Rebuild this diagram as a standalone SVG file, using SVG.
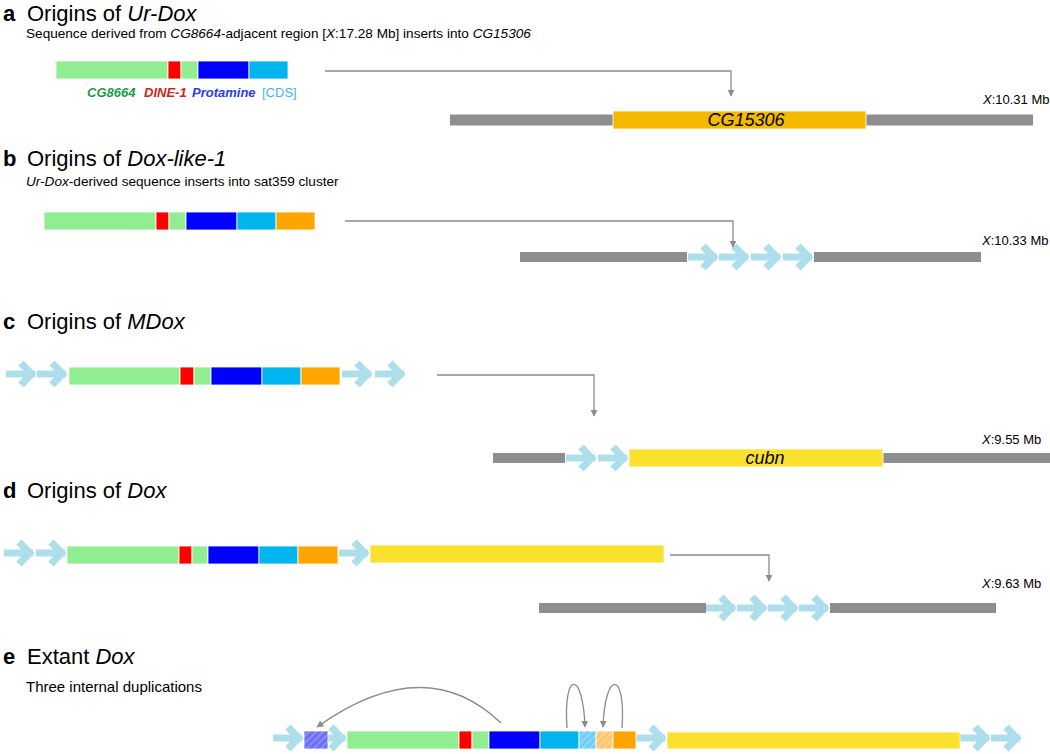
<svg xmlns="http://www.w3.org/2000/svg" width="1050" height="754" viewBox="0 0 1050 754">
<style>
text{font-family:"Liberation Sans",Arial,Helvetica,sans-serif;fill:#000}
.title{font-size:22px}
.sub{font-size:13.6px}
.lab{font-size:13px;font-weight:bold;font-style:italic}
.coord{font-size:13px}
.gname{font-size:18px;font-style:italic}
.it{font-style:italic}
.b{font-weight:bold}
rect.seg{stroke:#fff;stroke-width:0.8}
.g{fill:#90EE90}.r{fill:#FF0000}.bl{fill:#0000FF}.c{fill:#00B4EE}.o{fill:#FFA500}.y{fill:#F9E12E}.gr{fill:#8E8E8E}
.conn{fill:none;stroke:#8C8C8C;stroke-width:1.3}
.chev{fill:#ADDEEC;stroke:#ADDEEC}
</style>
<defs>
<g id="chev"><rect x="-31" y="-3.5" width="29" height="7" stroke="none"/><polyline points="-16,-11 -5.5,0 -16,11" fill="none" stroke-width="7.5" stroke-linejoin="miter"/></g>
<marker id="ah" viewBox="0 0 10 10" refX="9" refY="5" markerWidth="7" markerHeight="8" orient="auto" markerUnits="userSpaceOnUse"><path d="M0,0 L10,5 L0,10 z" fill="#8C8C8C"/></marker>
<pattern id="hP" width="5" height="5" patternUnits="userSpaceOnUse" patternTransform="rotate(45)"><rect width="5" height="5" fill="#6E6EF2"/><rect width="2" height="5" fill="#8C8CF7"/></pattern>
<pattern id="hC" width="5" height="5" patternUnits="userSpaceOnUse" patternTransform="rotate(45)"><rect width="5" height="5" fill="#6CCDF5"/><rect width="2" height="5" fill="#8ED9F8"/></pattern>
<pattern id="hO" width="5" height="5" patternUnits="userSpaceOnUse" patternTransform="rotate(45)"><rect width="5" height="5" fill="#FFC66E"/><rect width="2" height="5" fill="#FFD592"/></pattern>
</defs>

<!-- Panel a -->
<g id="panel-a">
<text x="3" y="21" class="title b">a</text>
<text x="27" y="21" class="title">Origins of <tspan class="it">Ur-Dox</tspan></text>
<text x="26" y="38" class="sub">Sequence derived from <tspan class="it">CG8664</tspan>-adjacent region [<tspan class="it">X</tspan>:17.28 Mb] inserts into <tspan class="it">CG15306</tspan></text>
</g>
<g id="urdox-a">
<rect class="seg g" x="56" y="61" width="112" height="18"/>
<rect class="seg r" x="168" y="61" width="13" height="18"/>
<rect class="seg g" x="181" y="61" width="17" height="18"/>
<rect class="seg bl" x="198" y="61" width="51" height="18"/>
<rect class="seg c" x="249" y="61" width="39" height="18"/>
<text y="97" class="lab"><tspan x="87" fill="#1A9A4A">CG8664</tspan><tspan x="144" fill="#C8281E">DINE-1</tspan><tspan x="192" fill="#2B3BE6">Protamine</tspan><tspan x="262" fill="#45B4F2" font-style="normal" font-weight="normal">[CDS]</tspan></text>
</g>
<g id="locus-a">
<rect class="gr" x="450" y="114.5" width="583" height="11"/>
<rect x="613" y="111" width="253" height="18" fill="#F5BA00" stroke="#fff" stroke-width="0.8"/>
<text x="746" y="126" class="gname" text-anchor="middle">CG15306</text>
<text x="983" y="104" class="coord"><tspan class="it">X</tspan>:10.31 Mb</text>
</g>

<!-- Panel b -->
<g id="panel-b">
<text x="3" y="166" class="title b">b</text>
<text x="27" y="166" class="title">Origins of <tspan class="it">Dox-like-1</tspan></text>
<text x="26" y="186" class="sub"><tspan class="it">Ur-Dox</tspan>-derived sequence inserts into sat359 cluster</text>
</g>
<g id="doxlike-b">
<rect class="seg g" x="44" y="212" width="112" height="18"/>
<rect class="seg r" x="156" y="212" width="13" height="18"/>
<rect class="seg g" x="169" y="212" width="17" height="18"/>
<rect class="seg bl" x="186" y="212" width="51" height="18"/>
<rect class="seg c" x="237" y="212" width="39" height="18"/>
<rect class="seg o" x="276" y="212" width="39" height="18"/>
</g>
<g id="locus-b">
<g class="chev">
<use href="#chev" x="719" y="257"/><use href="#chev" x="750" y="257"/><use href="#chev" x="782" y="257"/><use href="#chev" x="814" y="257"/>
</g>
<rect class="gr" x="520" y="252" width="167" height="10"/>
<rect class="gr" x="814" y="252" width="167" height="10"/>
<text x="982" y="245" class="coord"><tspan class="it">X</tspan>:10.33 Mb</text>
</g>

<!-- Panel c -->
<g id="panel-c">
<text x="3" y="329" class="title b">c</text>
<text x="27" y="329" class="title">Origins of <tspan class="it">MDox</tspan></text>
</g>
<g id="mdox-c">
<g class="chev">
<use href="#chev" x="37" y="374"/><use href="#chev" x="68" y="374"/>
<use href="#chev" x="373" y="374"/><use href="#chev" x="406" y="374"/>
</g>
<rect class="seg g" x="69" y="367" width="111" height="18"/>
<rect class="seg r" x="180" y="367" width="14" height="18"/>
<rect class="seg g" x="194" y="367" width="17" height="18"/>
<rect class="seg bl" x="211" y="367" width="51" height="18"/>
<rect class="seg c" x="262" y="367" width="39" height="18"/>
<rect class="seg o" x="301" y="367" width="39" height="18"/>
</g>
<g id="locus-c">
<g class="chev"><use href="#chev" x="597" y="458"/><use href="#chev" x="629" y="458"/></g>
<rect class="gr" x="493" y="453" width="72" height="10"/>
<rect class="gr" x="883" y="453" width="167" height="10"/>
<rect class="seg y" x="629" y="449" width="254" height="18"/>
<text x="765" y="464" class="gname" text-anchor="middle">cubn</text>
<text x="982" y="444" class="coord"><tspan class="it">X</tspan>:9.55 Mb</text>
</g>

<!-- Panel d -->
<g id="panel-d">
<text x="3" y="498" class="title b">d</text>
<text x="27" y="498" class="title">Origins of <tspan class="it">Dox</tspan></text>
</g>
<g id="dox-d">
<g class="chev">
<use href="#chev" x="35" y="553"/><use href="#chev" x="67" y="553"/><use href="#chev" x="370" y="553"/>
</g>
<rect class="seg g" x="67" y="546" width="112" height="18"/>
<rect class="seg r" x="179" y="546" width="13" height="18"/>
<rect class="seg g" x="192" y="546" width="16" height="18"/>
<rect class="seg bl" x="208" y="546" width="51" height="18"/>
<rect class="seg c" x="259" y="546" width="39" height="18"/>
<rect class="seg o" x="298" y="546" width="40" height="18"/>
<rect class="seg y" x="370" y="545" width="294" height="18"/>
</g>
<g id="locus-d">
<g class="chev">
<use href="#chev" x="737" y="608"/><use href="#chev" x="768" y="608"/><use href="#chev" x="799" y="608"/><use href="#chev" x="830" y="608"/>
</g>
<rect class="gr" x="539" y="603" width="167" height="10"/>
<rect class="gr" x="830" y="603" width="166" height="10"/>
<text x="982" y="588" class="coord"><tspan class="it">X</tspan>:9.63 Mb</text>
</g>

<!-- Panel e -->
<g id="panel-e">
<text x="3" y="664" class="title b">e</text>
<text x="27" y="664" class="title">Extant <tspan class="it">Dox</tspan></text>
<text x="26" y="692" class="sub" font-size="15px" style="font-size:15px">Three internal duplications</text>
</g>
<g id="dox-e">
<g class="chev">
<use href="#chev" x="304" y="738"/><use href="#chev" x="347" y="738"/><use href="#chev" x="667" y="738"/>
<use href="#chev" x="991" y="738"/><use href="#chev" x="1022" y="738"/>
</g>
<rect class="seg" x="304" y="731" width="24" height="18" fill="url(#hP)"/>
<rect class="seg g" x="347" y="731" width="112" height="18"/>
<rect class="seg r" x="459" y="731" width="13" height="18"/>
<rect class="seg g" x="472" y="731" width="17" height="18"/>
<rect class="seg bl" x="489" y="731" width="51" height="18"/>
<rect class="seg c" x="540" y="731" width="39" height="18"/>
<rect class="seg" x="579" y="731" width="17" height="18" fill="url(#hC)"/>
<rect class="seg" x="596" y="731" width="17" height="18" fill="url(#hO)"/>
<rect class="seg o" x="613" y="731" width="23" height="18"/>
<rect class="seg y" x="667" y="732" width="293" height="17"/>
</g>

<!-- Connectors -->
<g id="connectors">
<path class="conn" d="M325,71 H731 V96" marker-end="url(#ah)"/>
<path class="conn" d="M345,221 H733 V247" marker-end="url(#ah)"/>
<path class="conn" d="M437,375 H594 V416" marker-end="url(#ah)"/>
<path class="conn" d="M670,555 H769 V581" marker-end="url(#ah)"/>
<path class="conn" d="M501,723 Q425,650 317,727" marker-end="url(#ah)"/>
<path class="conn" d="M567,728 C563,670 583,670 585,727" marker-end="url(#ah)"/>
<path class="conn" d="M622,728 C626,670 605,670 603,727" marker-end="url(#ah)"/>
</g>
</svg>
